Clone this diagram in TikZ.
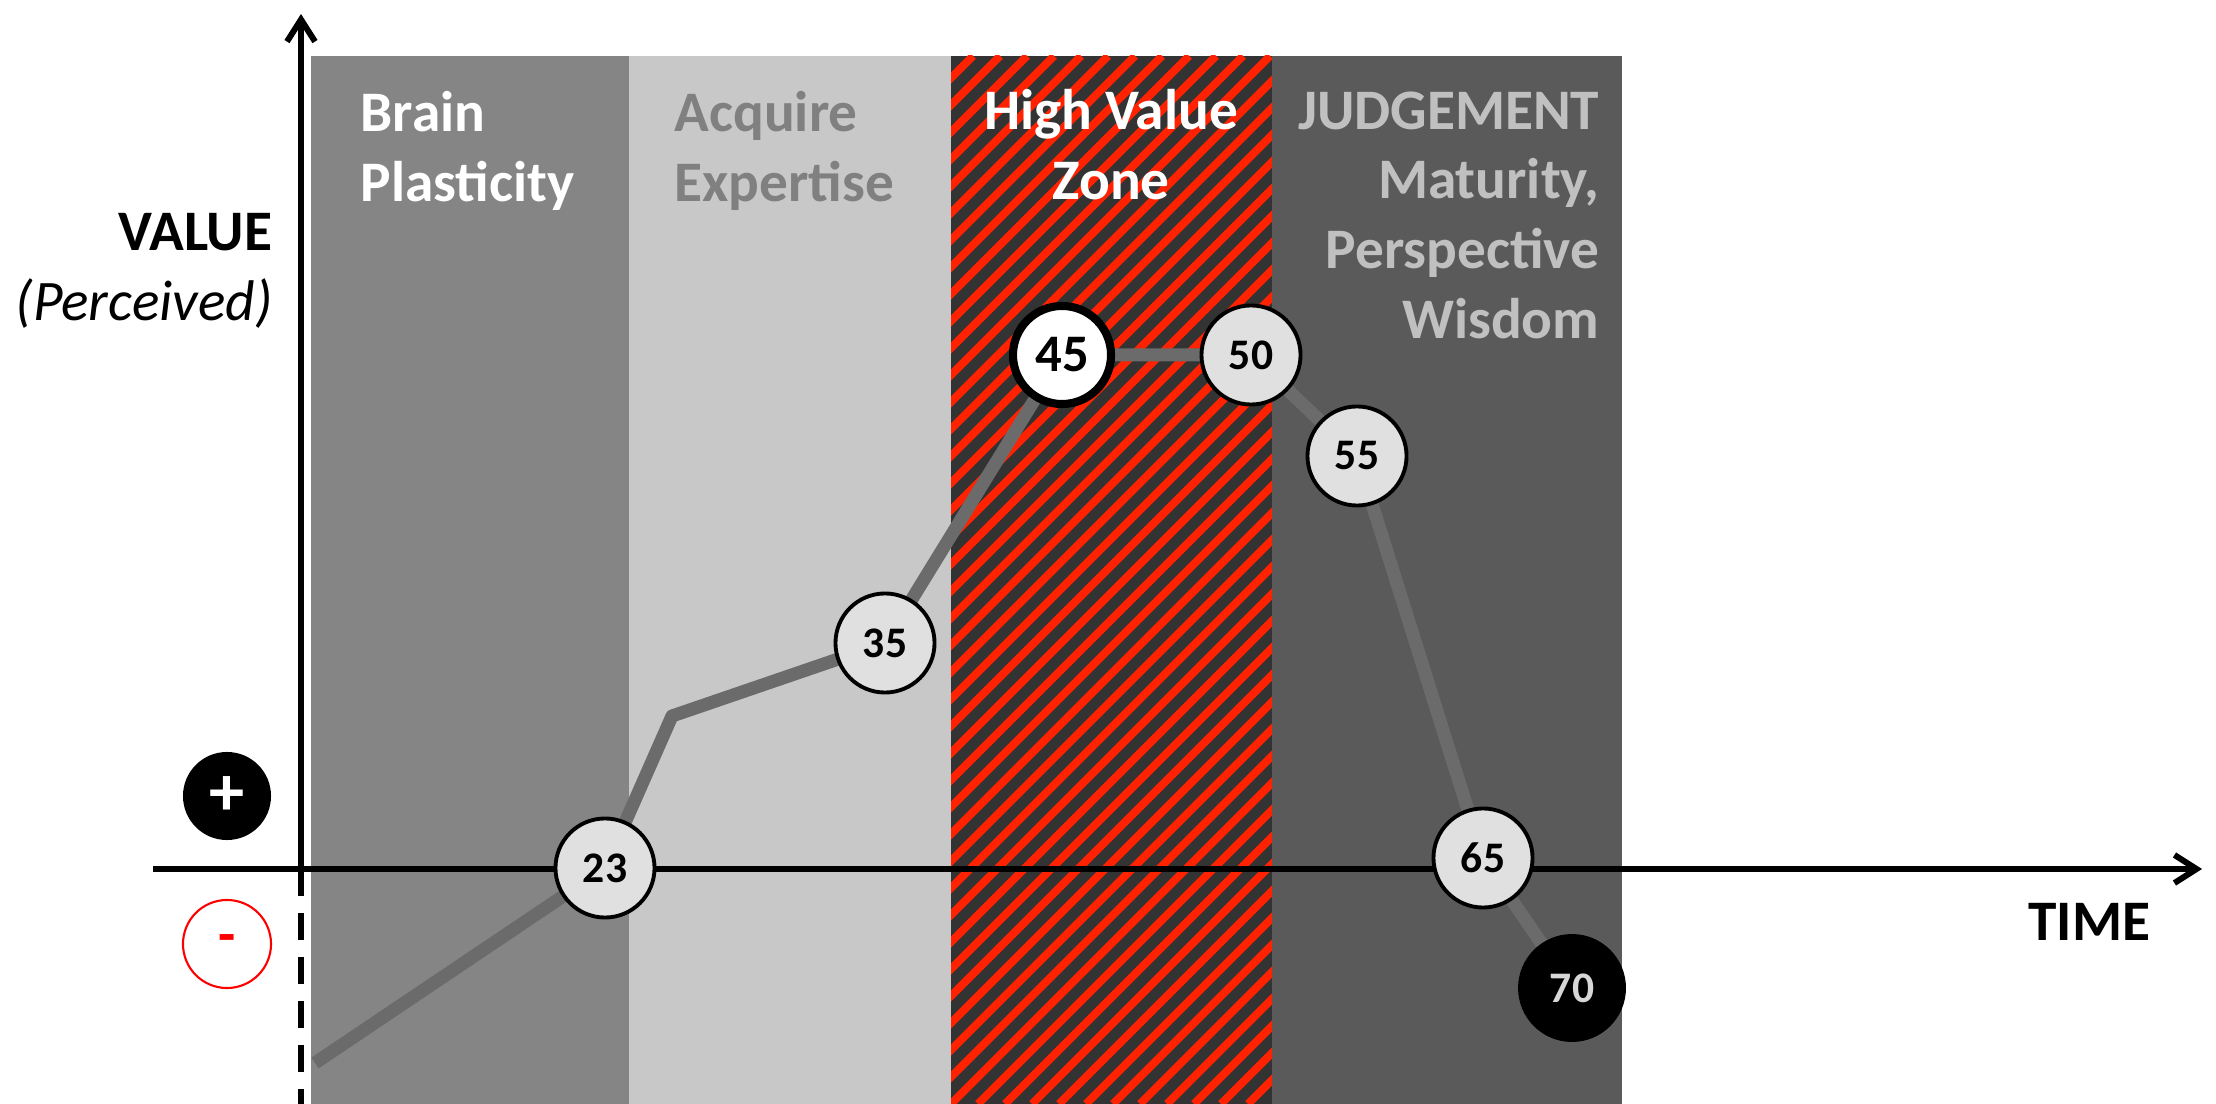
\documentclass[tikz,border=0pt]{standalone}
\usepackage{fontspec}
\setmainfont{Carlito}
\usetikzlibrary{arrows.meta}

\definecolor{bandmid}{RGB}{133,133,133}
\definecolor{bandlight}{RGB}{200,200,200}
\definecolor{banddark}{RGB}{90,90,90}
\definecolor{hatchdark}{RGB}{51,51,51}
\definecolor{hatchred}{RGB}{255,34,0}
\definecolor{curvegrey}{RGB}{107,107,107}
\definecolor{dotfill}{RGB}{224,224,224}
\definecolor{acqtext}{RGB}{128,128,128}
\definecolor{judgetext}{RGB}{192,192,192}
\definecolor{seventy}{RGB}{215,215,215}

\pgfdeclarelayer{bands}
\pgfdeclarelayer{curve}
\pgfsetlayers{bands,curve,main}

\tikzset{
  zonelabel/.style={inner sep=0pt, font=\bfseries\fontsize{16.3pt}{19.8pt}\selectfont},
  agedot/.style={circle, draw=black, fill=dotfill, line width=1.1pt, minimum size=0.99cm,
    inner sep=0pt, font=\bfseries\fontsize{12.4pt}{14pt}\selectfont},
  peakdot/.style={agedot, fill=white, line width=2.3pt, minimum size=0.98cm,
    font=\bfseries\fontsize{15pt}{17pt}\selectfont},
  enddot/.style={agedot, fill=black, text=seventy, minimum size=1.04cm},
  axis/.style={line width=1.7pt, -{Straight Barb[length=0.22cm,width=0.28cm]}},
  signdot/.style={circle, minimum size=0.88cm, inner sep=0pt},
}

\begin{document}
\begin{tikzpicture}[x=0.01cm,y=-0.01cm]
\useasboundingbox (0,0) rectangle (2216,1104);

% the four zones
\begin{pgfonlayer}{bands}
  \fill[bandmid] (311,56) rectangle (629,1104);
  \fill[bandlight] (629,56) rectangle (951,1104);
  \fill[hatchdark] (951,56) rectangle (1272,1104);
  \fill[banddark] (1272,56) rectangle (1622,1104);
  \begin{scope}
    \clip (951,56) rectangle (1272,1104);
    \foreach \i in {-40,...,13}
      \draw[hatchred, line width=0.08cm] (951+\i*27,1104) -- ++(1048,-1048);
  \end{scope}
\end{pgfonlayer}

    \node[zonelabel, text=white, anchor=north west, align=left] (brain) at (360,91) {Brain\\Plasticity};
    \node[zonelabel, text=acqtext, anchor=north west, align=left] (acquire) at (674,91) {Acquire\\Expertise};
    \node[zonelabel, text=white, anchor=north, align=center] (highzone) at (1111,89) {High Value\\Zone};
    \node[zonelabel, text=judgetext, anchor=north east, align=right] (judgement) at (1600,91) {JUDGEMENT\\Maturity,\\Perspective\\Wisdom};

% axes
    \coordinate (origin) at (301,869);
    \coordinate (ytop) at (301,14);
    \coordinate (ybottom) at (301,1104);
    \coordinate (xleft) at (153,869);
    \coordinate (xright) at (2202,869);
    \draw[axis] (origin) -- (ytop);
    \draw[axis] (xleft) -- (xright);
    \draw[line width=1.7pt, dash pattern=on 7.7pt off 4.8pt] (origin) -- (ybottom);

    \node[zonelabel, anchor=north east, align=right] (value) at (273,213) {VALUE\\\mdseries\itshape (Perceived)};
    \node[zonelabel, anchor=base east] (time) at (2151,940) {TIME};

    \node[signdot, fill=black, text=white, font=\bfseries\fontsize{20pt}{20pt}\selectfont] (plus) at (227,796) {+};
    \node[signdot, draw=red, fill=white, line width=0.6pt, text=red, font=\bfseries\fontsize{16pt}{16pt}\selectfont] (minus) at (227,944) {-};

% ages
    \coordinate (start) at (315,1063);
    \node[agedot] (a23) at (605,868) {23};
    \coordinate (knee) at (672,716);
    \node[agedot] (a35) at (885,643) {35};
    \node[peakdot] (a45) at (1062,355) {45};
    \node[agedot] (a50) at (1251,355) {50};
    \node[agedot] (a55) at (1357,456) {55};
    \node[agedot] (a65) at (1483,858) {65};
    \node[enddot] (a70) at (1572,988) {70};

\begin{pgfonlayer}{curve}
    \draw[curvegrey, line width=0.13cm, line join=round] (start) -- (a23.center) -- (knee) -- (a35.center)
      -- (a45.center) -- (a50.center) -- (a55.center) -- (a65.center) -- (a70.center);
\end{pgfonlayer}

\end{tikzpicture}
\end{document}
